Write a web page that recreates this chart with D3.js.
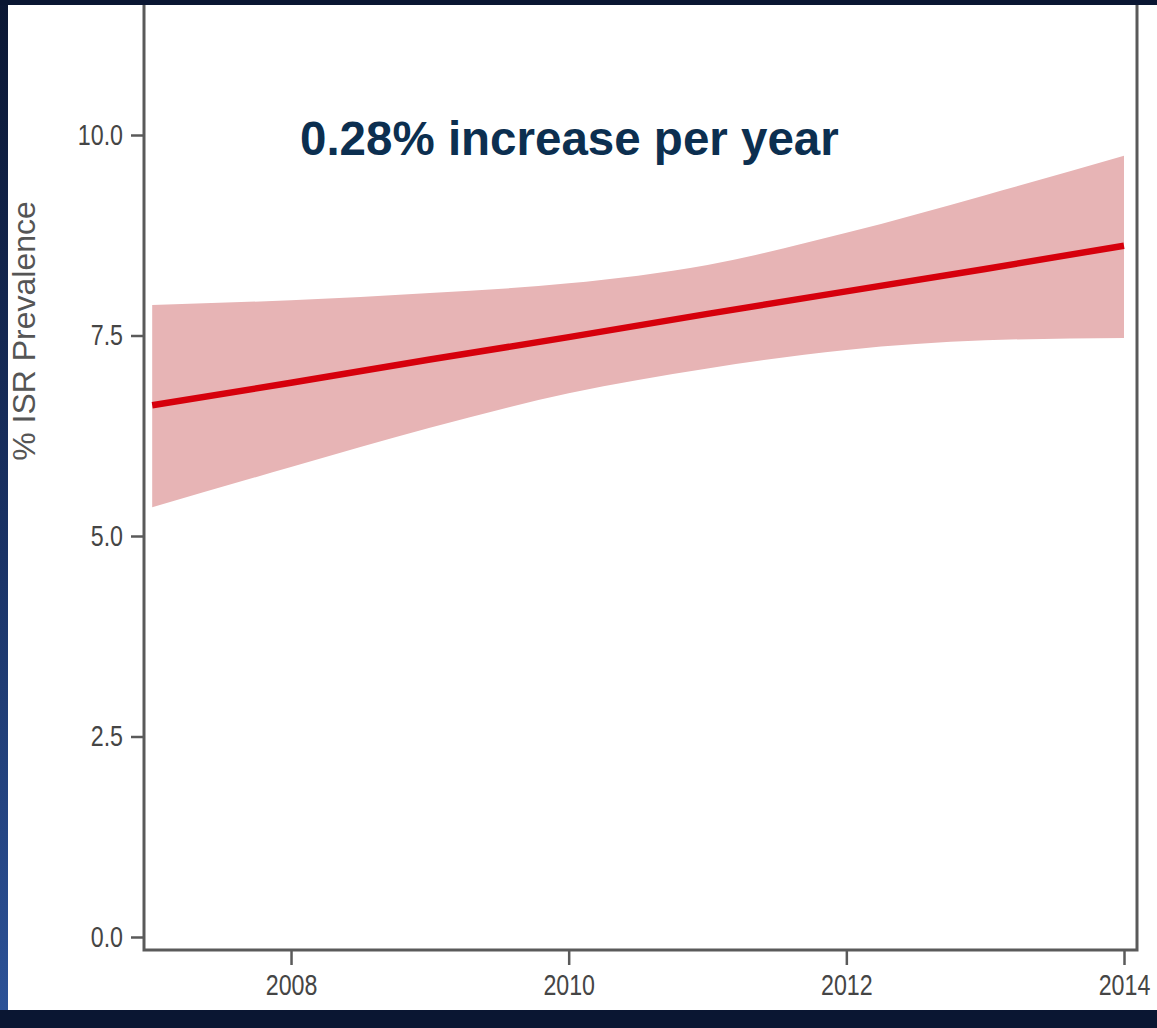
<!DOCTYPE html>
<html>
<head>
<meta charset="utf-8">
<script src="https://cdn.jsdelivr.net/npm/d3@7/dist/d3.min.js"></script>
<style>
  html, body { margin: 0; padding: 0; background: #0a1632; }
  svg { display: block; }
</style>
</head>
<body>
<svg id="chart" width="1157" height="1028"></svg>
<script>
// Yearly estimates of in-stent restenosis prevalence (%), linear trend with 95% band
const years = [2007, 2008, 2009, 2010, 2011, 2012, 2013, 2014];
const trend = [6.63, 6.91, 7.20, 7.48, 7.77, 8.05, 8.33, 8.62];
const upper = [7.88, 7.94, 8.03, 8.15, 8.38, 8.78, 9.25, 9.74];
const lower = [5.36, 5.86, 6.35, 6.78, 7.09, 7.32, 7.44, 7.47];

const yTicks = [0, 2.5, 5, 7.5, 10];
const xTicks = [2008, 2010, 2012, 2014];
const annotation = "0.28% increase per year";
const yTitle = "% ISR Prevalence";

const svg = d3.select("#chart");
const W = 1157, H = 1028;

// Slide backdrop: dark navy with a blue gradient strip on the left
const defs = svg.append("defs");
const grad = defs.append("linearGradient").attr("id", "strip")
  .attr("x1", 0).attr("y1", 0).attr("x2", 0).attr("y2", 1);
grad.append("stop").attr("offset", "0%").attr("stop-color", "#0b1733");
grad.append("stop").attr("offset", "55%").attr("stop-color", "#1a3366");
grad.append("stop").attr("offset", "100%").attr("stop-color", "#2c5297");

svg.append("rect").attr("width", W).attr("height", H).attr("fill", "#0a1632");
svg.append("rect").attr("x", 0).attr("y", 0).attr("width", 8).attr("height", 1010).attr("fill", "url(#strip)");
svg.append("rect").attr("x", 8).attr("y", 5).attr("width", W - 8).attr("height", 1005).attr("fill", "#ffffff");

// Plot frame
const frame = { left: 144, right: 1137, top: 0, bottom: 950 };

const x = d3.scaleLinear().domain([2007, 2014]).range([152.2, 1124]);
const y = d3.scaleLinear().domain([0, 10]).range([937, 135]);

const g = svg.append("g");

// Confidence band
const area = d3.area()
  .x((d, i) => x(years[i]))
  .y0((d, i) => y(lower[i]))
  .y1((d, i) => y(upper[i]))
  .curve(d3.curveMonotoneX);
g.append("path").datum(years).attr("d", area).attr("fill", "#e7b4b5");

// Trend line
const line = d3.line()
  .x((d, i) => x(years[i]))
  .y((d, i) => y(trend[i]));
g.append("path").datum(years).attr("d", line)
  .attr("fill", "none").attr("stroke", "#d6000c").attr("stroke-width", 6.5);

// Axes
const axisColor = "#5a5a5a";
const labelFont = "'Liberation Sans', Arial, sans-serif";

const yAxis = d3.axisLeft(y).tickValues(yTicks).tickFormat(d3.format(".1f"))
  .tickSize(13).tickSizeOuter(0).tickPadding(8);
const ya = svg.append("g").attr("transform", `translate(${frame.left},0)`).call(yAxis);
ya.select(".domain").remove();

const xAxis = d3.axisBottom(x).tickValues(xTicks).tickFormat(d3.format("d"))
  .tickSize(15).tickSizeOuter(0).tickPadding(9);
const xa = svg.append("g").attr("transform", `translate(0,${frame.bottom})`).call(xAxis);
xa.select(".domain").remove();

// Condensed tick lettering: squeeze horizontally about each tick's anchor
const squeeze = 0.8;
[ya, xa].forEach(a => {
  a.selectAll(".tick line").attr("stroke", axisColor).attr("stroke-width", 2.5);
});
ya.selectAll(".tick text").each(function () {
  const t = d3.select(this);
  const tx = +t.attr("x");
  t.attr("x", tx / squeeze).attr("transform", `scale(${squeeze},1)`);
});
xa.selectAll(".tick text").attr("transform", `scale(${squeeze},1)`);
[ya, xa].forEach(a => {
  a.selectAll(".tick text").attr("fill", "#454545")
    .style("font-family", labelFont).style("font-size", "29px");
});

svg.append("path")
  .attr("d", `M${frame.left},${frame.top}V${frame.bottom}H${frame.right}V${frame.top}`)
  .attr("fill", "none").attr("stroke", axisColor).attr("stroke-width", 3);

// Slide border over the top and bottom edges
svg.append("rect").attr("x", 0).attr("y", 0).attr("width", W).attr("height", 5).attr("fill", "#0a1632");
svg.append("rect").attr("x", 0).attr("y", 1010).attr("width", W).attr("height", H - 1010).attr("fill", "#0a1632");

// Axis title
svg.append("text")
  .attr("transform", "translate(35,331) rotate(-90)")
  .attr("text-anchor", "middle")
  .attr("fill", "#555555")
  .style("font-family", "'Liberation Sans', Arial, sans-serif")
  .style("font-size", "32px")
  .text(yTitle);

// Annotation
svg.append("text")
  .attr("x", 300).attr("y", 155)
  .attr("fill", "#0c2f50")
  .style("font-family", "'Liberation Sans', Arial, sans-serif")
  .style("font-weight", "bold")
  .style("font-size", "47.5px")
  .text(annotation);
</script>
</body>
</html>
